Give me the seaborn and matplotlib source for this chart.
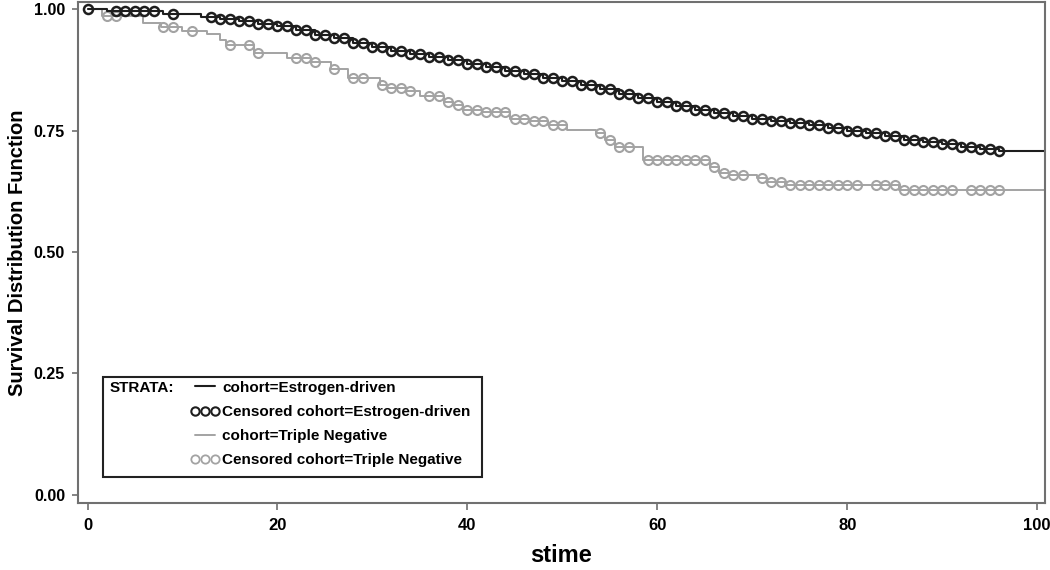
import numpy as np
import pandas as pd
import seaborn as sns
import matplotlib.pyplot as plt
from matplotlib.lines import Line2D
from matplotlib.patches import Rectangle

# Kaplan-Meier steps: (time, survival)
er_times = [0, 2, 8, 12, 14, 16, 18, 20, 22, 24, 26, 28, 30, 32, 34, 36, 38, 40,
            42, 44, 46, 48, 50, 52, 54, 56, 58, 60, 62, 64, 66, 68, 70, 72, 74,
            76, 78, 80, 82, 84, 86, 88, 90, 92, 94, 96, 101]
er_surv = [1.0, 0.996, 0.99, 0.985, 0.979, 0.975, 0.97, 0.965, 0.958, 0.948,
           0.94, 0.93, 0.922, 0.915, 0.908, 0.902, 0.895, 0.887, 0.881, 0.873,
           0.866, 0.859, 0.852, 0.843, 0.835, 0.826, 0.817, 0.81, 0.8, 0.792,
           0.787, 0.781, 0.775, 0.769, 0.765, 0.761, 0.756, 0.75, 0.746, 0.738,
           0.731, 0.726, 0.723, 0.716, 0.712, 0.709, 0.709]
er_censor = [0, 3, 4, 5, 6, 7, 9, 13, 14, 15, 16, 17, 18, 19, 20, 21, 22, 23, 24,
             25, 26, 27, 28, 29, 30, 31, 32, 33, 34, 35, 36, 37, 38, 39, 40, 41,
             42, 43, 44, 45, 46, 47, 48, 49, 50, 51, 52, 53, 54, 55, 56, 57, 58,
             59, 60, 61, 62, 63, 64, 65, 66, 67, 68, 69, 70, 71, 72, 73, 74, 75,
             76, 77, 78, 79, 80, 81, 82, 83, 84, 85, 86, 87, 88, 89, 90, 91, 92,
             93, 94, 95, 96]

tn_times = [0, 1.5, 5.8, 7.7, 10, 12.6, 14, 14.6, 17.5, 21, 23.5, 25.6, 27.4,
            30.8, 31.5, 33.5, 35, 37.5, 38.5, 39.5, 41.5, 44.5, 46.5, 48.5, 50.5,
            53.5, 54.5, 55.5, 58.5, 65.5, 66.5, 67.5, 70.5, 71.5, 73.5, 85.5, 101]
tn_surv = [1.0, 0.986, 0.972, 0.963, 0.955, 0.95, 0.936, 0.926, 0.909, 0.9,
           0.892, 0.878, 0.858, 0.844, 0.838, 0.832, 0.822, 0.81, 0.802, 0.792,
           0.788, 0.775, 0.77, 0.762, 0.752, 0.745, 0.73, 0.716, 0.69, 0.675,
           0.663, 0.658, 0.652, 0.645, 0.638, 0.627, 0.627]
tn_censor = [2, 3, 8, 9, 11, 15, 17, 18, 22, 23, 24, 26, 28, 29, 31, 32, 33, 34,
             36, 37, 38, 39, 40, 41, 42, 43, 44, 45, 46, 47, 48, 49, 50, 54, 55,
             56, 57, 59, 60, 61, 62, 63, 64, 65, 66, 67, 68, 69, 71, 72, 73, 74,
             75, 76, 77, 78, 79, 80, 81, 83, 84, 85, 86, 87, 88, 89, 90, 91, 93,
             94, 95, 96]

x_ticks = [0, 20, 40, 60, 80, 100]
y_ticks = [0.0, 0.25, 0.5, 0.75, 1.0]

er_color = "#1e1e1e"
tn_color = "#a3a3a3"


def step_value(times, surv, t):
    # survival at time t from the step function
    i = np.searchsorted(times, t, side="right") - 1
    return np.asarray(surv)[i]


sns.set_theme(style="ticks")
plt.rcParams["font.family"] = ["Liberation Sans", "DejaVu Sans"]
plt.rcParams["text.color"] = "black"
plt.rcParams["axes.labelcolor"] = "black"
plt.rcParams["xtick.labelcolor"] = "black"
plt.rcParams["ytick.labelcolor"] = "black"

fig = plt.figure(figsize=(10.5, 5.7), dpi=100)
ax = fig.add_axes([0.0743, 0.1175, 0.9207, 0.879])

er_cens = pd.DataFrame({"stime": er_censor,
                        "surv": [step_value(er_times, er_surv, t) for t in er_censor]})
tn_cens = pd.DataFrame({"stime": tn_censor,
                        "surv": [step_value(tn_times, tn_surv, t) for t in tn_censor]})

# triple negative first so the estrogen curve sits on top
sns.lineplot(x=tn_times, y=tn_surv, drawstyle="steps-post", color=tn_color,
             linewidth=1.4, estimator=None, ax=ax)
sns.lineplot(data=tn_cens, x="stime", y="surv", linestyle="", marker="o",
             markersize=6.5, markerfacecolor="none", markeredgecolor=tn_color,
             markeredgewidth=1.5, estimator=None, ax=ax)
sns.lineplot(x=er_times, y=er_surv, drawstyle="steps-post", color=er_color,
             linewidth=1.5, estimator=None, ax=ax)
sns.lineplot(data=er_cens, x="stime", y="surv", linestyle="", marker="o",
             markersize=6.5, markerfacecolor="none", markeredgecolor=er_color,
             markeredgewidth=1.8, estimator=None, ax=ax)

ax.set_xlim(-1, 100.8)
ax.set_ylim(-0.017, 1.015)
ax.set_xticks(x_ticks)
ax.set_yticks(y_ticks)
ax.set_yticklabels([f"{v:.2f}" for v in y_ticks])
for s in ax.spines.values():
    s.set_color("#707070")
    s.set_linewidth(1.5)
ax.tick_params(axis="both", direction="out", color="#707070", width=1.2)
ax.tick_params(axis="y", length=4.3, pad=5, labelsize=11.5)
ax.tick_params(axis="x", length=5, pad=6, labelsize=12)
for lab in ax.get_xticklabels() + ax.get_yticklabels():
    lab.set_fontweight("bold")
ax.set_xlabel("stime", fontsize=17, fontweight="bold", labelpad=8)
ax.set_ylabel("Survival Distribution Function", fontsize=14.5, fontweight="bold")
ax.yaxis.set_label_coords(-0.053, 0.5)

# legend box in SAS style
ax.add_patch(Rectangle((0.0259, 0.0519), 0.392, 0.2, transform=ax.transAxes,
                       fill=False, edgecolor="#222222", linewidth=1.5, zorder=5))
ax.text(0.0331, 0.2295, "STRATA:", transform=ax.transAxes, fontsize=11,
        fontweight="bold", va="center", ha="left")
handles = [
    Line2D([], [], color=er_color, linewidth=1.5),
    Line2D([], [], linestyle="", marker="o", markersize=6, markerfacecolor="none",
           markeredgecolor=er_color, markeredgewidth=1.5),
    Line2D([], [], color=tn_color, linewidth=1.4),
    Line2D([], [], linestyle="", marker="o", markersize=6, markerfacecolor="none",
           markeredgecolor=tn_color, markeredgewidth=1.3),
]
labels = ["cohort=Estrogen-driven", "Censored cohort=Estrogen-driven",
          "cohort=Triple Negative", "Censored cohort=Triple Negative"]
leg = ax.legend(handles, labels, loc="upper left", bbox_to_anchor=(0.116, 0.244),
                frameon=False, numpoints=3, handlelength=1.9, handletextpad=0.2,
                labelspacing=0.67, borderpad=0, borderaxespad=0,
                prop={"size": 11, "weight": "bold"})

fig.savefig("out.png", dpi=100)
